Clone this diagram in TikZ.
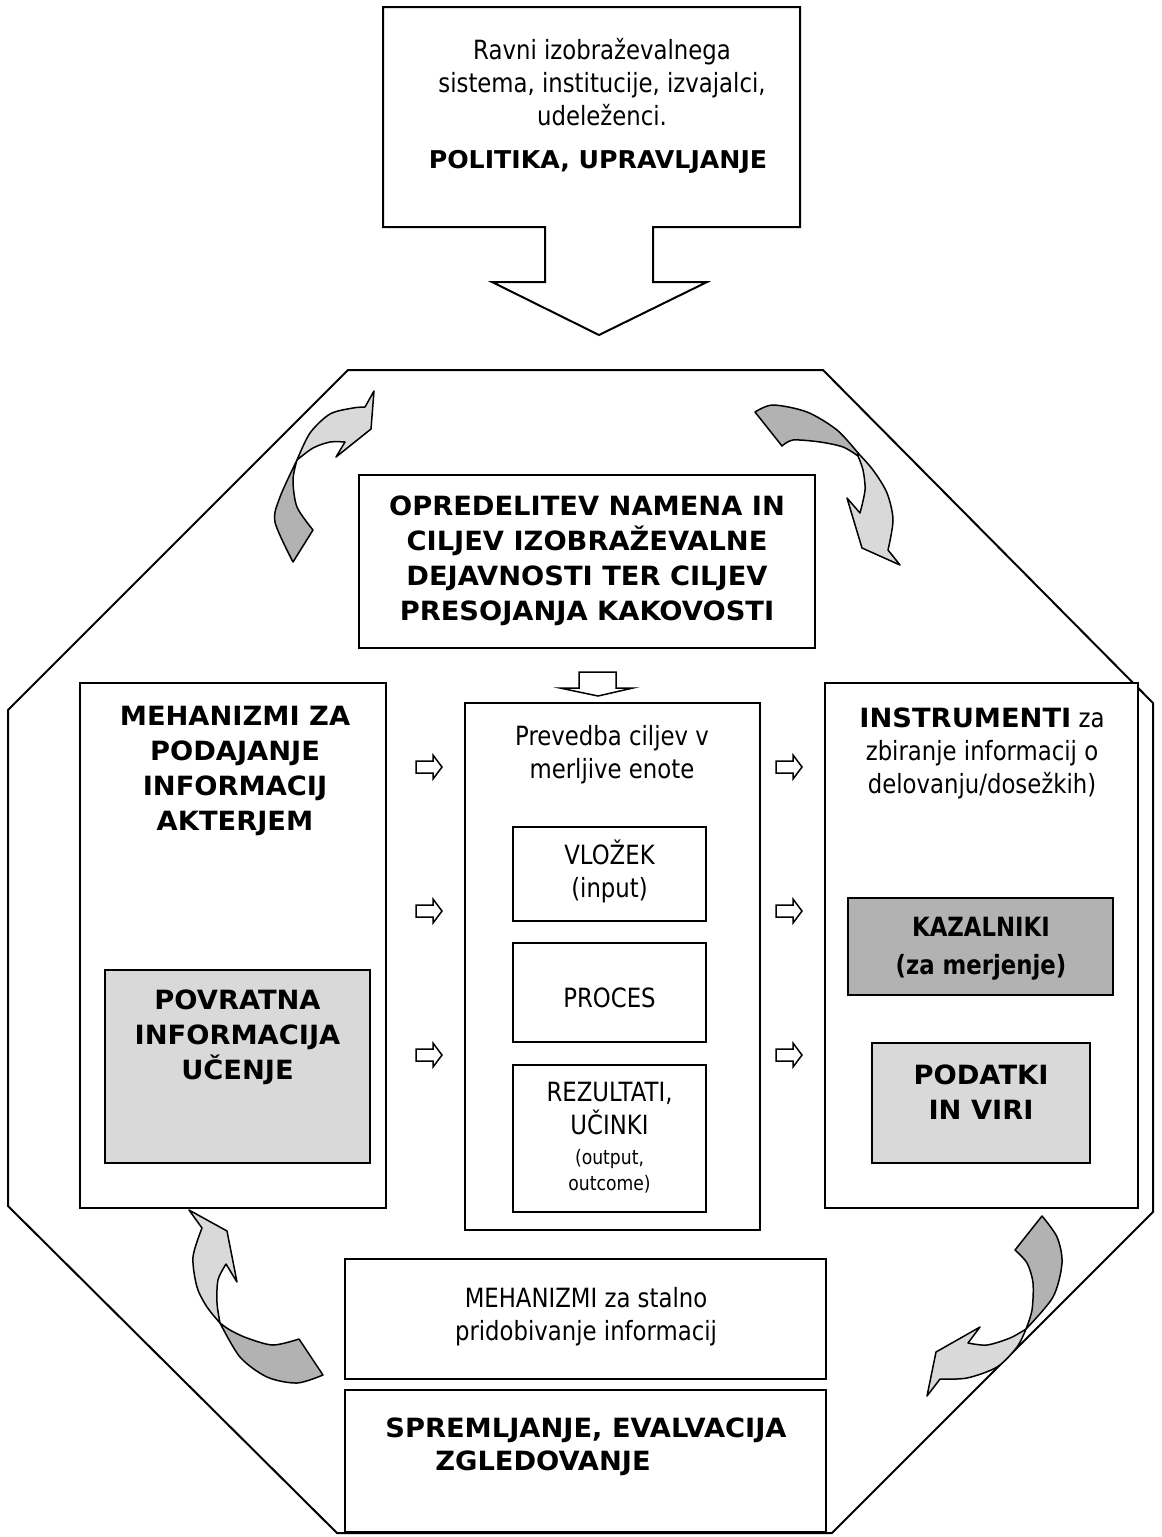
\documentclass[tikz,border=0pt]{standalone}
\usepackage{fontspec}
\setmainfont{DejaVu Sans}[FakeStretch=0.86]
\newfontfamily\headfont{DejaVu Sans}[FakeStretch=1.03]
\definecolor{lgray}{HTML}{D9D9D9}
\definecolor{dgray}{HTML}{B2B2B2}
\begin{document}
\begin{tikzpicture}[x=1pt,y=-1pt,
  frame/.style={draw, line width=2pt, fill=white, inner sep=0pt, outer sep=0pt},
  txt/.style={inner sep=0pt, align=center, font=\fontsize{26.5}{33}\selectfont},
  btxt/.style={inner sep=0pt, align=center, font=\fontsize{26.5}{35}\selectfont\headfont\bfseries},
  stxt/.style={inner sep=0pt, align=center, font=\fontsize{20}{26}\selectfont},
  curvlight/.style={draw, line width=1.5pt, fill=lgray, line join=round},
  curvdark/.style={draw, line width=1.5pt, fill=dgray, line join=round},
  hollowarrow/.pic={\draw[line width=1.5pt, line join=miter]
    (0,-6) -- (17,-6) -- (17,-12) -- (26,0) -- (17,12) -- (17,6) -- (0,6) -- cycle;}
]
\useasboundingbox (0,0) rectangle (1162,1537);

% outer octagon
\draw[line width=2pt] (348,370) -- (823,370) -- (1153,703) -- (1153,1212)
  -- (832,1533) -- (337,1533) -- (8,1206) -- (8,710) -- cycle;

% top box merged with its down arrow
\draw[line width=2pt, fill=white] (383,7) -- (800,7) -- (800,227) -- (653,227)
  -- (653,282) -- (707,282) -- (599,335) -- (492,282) -- (545,282) -- (545,227)
  -- (383,227) -- cycle;
\node[txt] (levels) at (602,82) {Ravni izobraževalnega\\sistema, institucije, izvajalci,\\udeleženci.};
\node[btxt, font=\fontsize{24.5}{30}\selectfont\headfont\bfseries] (policy) at (598,162) {POLITIKA, UPRAVLJANJE};

% goals box
\node[frame, minimum width=456pt, minimum height=173pt] (goalBox) at (587,561.5) {};
\node[btxt] (goalTxt) at (587,561) {OPREDELITEV NAMENA IN\\CILJEV IZOBRAŽEVALNE\\DEJAVNOSTI TER CILJEV\\PRESOJANJA KAKOVOSTI};

% small down arrow
\draw[line width=1.5pt] (579,672) -- (616,672) -- (616,688) -- (633,688)
  -- (598,696) -- (560,688) -- (579,688) -- cycle;

% left column
\node[frame, minimum width=306pt, minimum height=525pt] (leftBox) at (233,945.5) {};
\node[btxt] (leftTxt) at (235,771) {MEHANIZMI ZA\\PODAJANJE\\INFORMACIJ\\AKTERJEM};
\node[frame, fill=lgray, minimum width=265pt, minimum height=193pt] (povBox) at (237.5,1066.5) {};
\node[btxt] (povTxt) at (237.5,1037) {POVRATNA\\INFORMACIJA\\UČENJE};

% middle column
\node[frame, minimum width=295pt, minimum height=527pt] (midBox) at (612.5,966.5) {};
\node[txt] (midTxt) at (612,755) {Prevedba ciljev v\\merljive enote};
\node[frame, minimum width=193pt, minimum height=94pt] (vlozBox) at (609.5,874) {};
\node[txt] (vlozTxt) at (609.5,871) {VLOŽEK\\(input)};
\node[frame, minimum width=193pt, minimum height=99pt] (procBox) at (609.5,992.5) {};
\node[txt] (procTxt) at (609.5,998) {PROCES};
\node[frame, minimum width=193pt, minimum height=147pt] (rezBox) at (609.5,1138.5) {};
\node[txt] (rezTxt) at (609.5,1109) {REZULTATI,\\UČINKI};
\node[stxt] (rezSmall) at (609.5,1171) {(output,\\outcome)};

% right column
\node[frame, minimum width=313pt, minimum height=525pt] (rightBox) at (981.5,945.5) {};
\node[txt] (rightTxt) at (982,753) {{\headfont\bfseries INSTRUMENTI} za\\zbiranje informacij o\\delovanju/dosežkih)};
\node[frame, fill=dgray, minimum width=265pt, minimum height=97pt] (kazBox) at (980.5,946.5) {};
\node[btxt, font=\fontsize{26.5}{38}\selectfont\bfseries] (kazTxt) at (981,949) {KAZALNIKI\\(za merjenje)};
\node[frame, fill=lgray, minimum width=218pt, minimum height=120pt] (podBox) at (981,1103) {};
\node[btxt] (podTxt) at (981,1092) {PODATKI\\IN VIRI};

% bottom boxes
\node[frame, minimum width=481pt, minimum height=120pt] (mehBox) at (585.5,1319) {};
\node[txt] (mehTxt) at (586,1317) {MEHANIZMI za stalno\\pridobivanje informacij};
\node[frame, minimum width=481pt, minimum height=142pt] (sprBox) at (585.5,1461) {};
\node[btxt] (sprTxt1) at (586,1430) {SPREMLJANJE, EVALVACIJA};
\node[btxt] (sprTxt2) at (543,1463) {ZGLEDOVANJE};

% hollow arrows between the columns
\foreach \yy in {767,911,1055} {
  \pic at (416,\yy) {hollowarrow};
  \pic at (776,\yy) {hollowarrow};
}

% curved arrow, top left
\filldraw[curvdark] (293,562) -- (313,530)
  -- plot[smooth] coordinates {(313,530) (297,507) (293,480) (297,460)}
  -- plot[smooth] coordinates {(297,460) (280,497) (275,522) (293,562)} -- cycle;
\filldraw[curvlight] (297,460)
  -- plot[smooth] coordinates {(297,460) (310,433) (330,414) (353,408) (365,407)}
  -- (374,391) -- (371,429) -- (336,457) -- (345,442)
  -- plot[smooth] coordinates {(345,442) (330,442) (313,448) (297,460)} -- cycle;

% curved arrow, top right
\filldraw[curvdark] (755,412)
  -- plot[smooth] coordinates {(755,412) (773,405) (807,412) (837,430) (858,453)}
  -- plot[smooth] coordinates {(858,456) (843,447) (820,442) (793,440) (782,446)}
  -- cycle;
\filldraw[curvlight] (858,453)
  -- plot[smooth] coordinates {(858,453) (873,470) (887,493) (893,520) (888,550)}
  -- (900,565) -- (862,548) -- (847,498) -- (860,513)
  -- plot[smooth] coordinates {(860,513) (865,490) (863,470) (858,456)} -- cycle;

% curved arrow, bottom left
\filldraw[curvdark] (220,1323)
  -- plot[smooth] coordinates {(220,1323) (240,1357) (267,1377) (297,1383) (323,1375)}
  -- (299,1339)
  -- plot[smooth] coordinates {(299,1339) (273,1345) (247,1338) (230,1330) (220,1323)}
  -- cycle;
\filldraw[curvlight] (189,1210) -- (227,1231) -- (237,1282) -- (226,1264)
  -- plot[smooth] coordinates {(226,1264) (218,1280) (217,1303) (220,1323)}
  -- plot[smooth] coordinates {(220,1323) (207,1307) (197,1287) (193,1257) (202,1228)}
  -- cycle;

% curved arrow, bottom right
\filldraw[curvdark] (1015,1250) -- (1042,1216)
  -- plot[smooth] coordinates {(1042,1216) (1057,1237) (1062,1263) (1053,1297) (1026,1329)}
  -- plot[smooth] coordinates {(1026,1329) (1032,1310) (1033,1283) (1027,1263) (1015,1250)}
  -- cycle;
\filldraw[curvlight] (1026,1329)
  -- plot[smooth] coordinates {(1026,1329) (1010,1338) (987,1345) (968,1343)}
  -- (980,1327) -- (936,1352) -- (927,1396) -- (940,1379)
  -- plot[smooth] coordinates {(940,1379) (967,1378) (997,1367) (1017,1347) (1026,1329)}
  -- cycle;
\end{tikzpicture}
\end{document}
